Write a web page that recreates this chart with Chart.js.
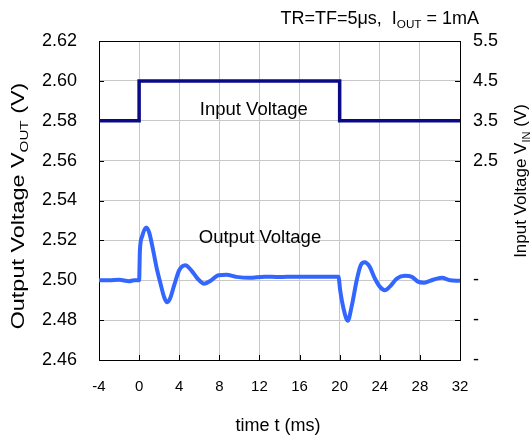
<!DOCTYPE html>
<html>
<head>
<meta charset="utf-8">
<script src="https://cdn.jsdelivr.net/npm/chart.js@4.4.0/dist/chart.umd.min.js"></script>
<style>
  html, body { margin: 0; padding: 0; background: #fff; }
  #wrap { width: 532px; height: 437px; }
</style>
</head>
<body>
<div id="wrap"><canvas id="stepChart" width="532" height="437"></canvas></div>
<script>
// time axis (ms)
const xTicks = [-4, 0, 4, 8, 12, 16, 20, 24, 28, 32];
// left axis, output voltage
const yTicks = [2.46, 2.48, 2.50, 2.52, 2.54, 2.56, 2.58, 2.60, 2.62];
// right axis, input voltage (only the top rows carry numbers in the original)
const y2Ticks = [-2.5, -1.5, -0.5, 0.5, 1.5, 2.5, 3.5, 4.5, 5.5];
const y2Labels = ['-', '-', '-', '', '', '2.5', '3.5', '4.5', '5.5'];

// input step
const inTime = [-4, 0, 0, 20, 20, 32];
const inVolt = [3.5, 3.5, 4.5, 4.5, 3.5, 3.5];

// output response
const outTime = [-4, -3, -2, -1, -0.5, 0, 0.08, 0.3, 0.7, 1.0, 1.4, 1.8, 2.1, 2.5, 2.8, 3.1, 3.5, 4.0, 4.6,
  5.2, 5.8, 6.5, 7.2, 7.9, 8.7, 9.7, 11, 12.5, 14, 15.5, 17, 18.5, 19.88, 20.05, 20.4, 20.8, 21.2, 21.7,
  22.1, 22.5, 23.0, 23.5, 24.0, 24.5, 25.0, 25.7, 26.5, 27.2, 27.8, 28.4, 29.0, 29.7, 30.2, 31.0, 32];
const outVolt = [2.5000, 2.5000, 2.5002, 2.4995, 2.5000, 2.5000, 2.5150, 2.5220, 2.5265, 2.5240, 2.5150,
  2.5050, 2.4990, 2.4915, 2.4890, 2.4910, 2.4975, 2.5050, 2.5075, 2.5050, 2.5010, 2.4983, 2.5000, 2.5025,
  2.5027, 2.5017, 2.5012, 2.5018, 2.5016, 2.5018, 2.5017, 2.5017, 2.5017, 2.4950, 2.4855, 2.4797, 2.4870,
  2.5000, 2.5075, 2.5090, 2.5067, 2.5010, 2.4968, 2.4950, 2.4968, 2.5008, 2.5022, 2.5017, 2.4993, 2.4988,
  2.4997, 2.5008, 2.5012, 2.5000, 2.4997];

const FONT = '"Liberation Sans", Arial, sans-serif';
Chart.defaults.font.family = FONT;
Chart.defaults.color = '#000';

// text with subscripts, parts = [[text, isSub], ...]
function richText(ctx, parts, x, y, size, align) {
  let w = 0;
  parts.forEach(p => {
    ctx.font = (p[1] ? size * 0.65 : size) + 'px ' + FONT;
    w += ctx.measureText(p[0]).width;
  });
  let cx = align === 'right' ? x - w : align === 'center' ? x - w / 2 : x;
  ctx.textAlign = 'left';
  ctx.textBaseline = 'alphabetic';
  parts.forEach(p => {
    ctx.font = (p[1] ? size * 0.65 : size) + 'px ' + FONT;
    ctx.fillText(p[0], cx, p[1] ? y + size * 0.22 : y);
    cx += ctx.measureText(p[0]).width;
  });
}

const decor = {
  id: 'decor',
  beforeDatasetsDraw(chart) {
    const { ctx, chartArea: a, scales } = chart;
    ctx.save();
    ctx.strokeStyle = '#000';
    ctx.lineWidth = 1;
    ctx.strokeRect(a.left + 0.5, a.top + 0.5, a.right - a.left, a.bottom - a.top);
    ctx.beginPath();
    yTicks.forEach(v => {
      const py = Math.round(scales.y.getPixelForValue(v)) + 0.5;
      ctx.moveTo(a.left, py); ctx.lineTo(a.left + 5, py);
      ctx.moveTo(a.right - 5, py); ctx.lineTo(a.right, py);
    });
    xTicks.forEach(v => {
      const px = Math.round(scales.x.getPixelForValue(v)) + 0.5;
      ctx.moveTo(px, a.bottom); ctx.lineTo(px, a.bottom - 5);
    });
    ctx.stroke();
    ctx.restore();
  },
  afterDraw(chart) {
    const { ctx, scales } = chart;
    ctx.save();
    ctx.fillStyle = '#000';
    // header
    richText(ctx, [['TR=TF=5\u03bcs,  I', false], ['OUT', true], [' = 1mA', false]], 479, 24, 18, 'right');
    // curve labels
    richText(ctx, [['Input Voltage', false]], scales.x.getPixelForValue(6.05), scales.y.getPixelForValue(2.583), 18.5, 'left');
    richText(ctx, [['Output Voltage', false]], scales.x.getPixelForValue(5.95), scales.y.getPixelForValue(2.5187), 18.5, 'left');
    // x title
    richText(ctx, [['time t (ms)', false]], 278, 431, 18, 'center');
    // left title
    ctx.save();
    ctx.translate(24, 206);
    ctx.rotate(-Math.PI / 2);
    ctx.scale(1.3, 1);
    richText(ctx, [['Output Voltage V', false], ['OUT', true], [' (V)', false]], 0, 0, 18, 'center');
    ctx.restore();
    // right title
    ctx.save();
    ctx.translate(526, 181);
    ctx.rotate(-Math.PI / 2);
    richText(ctx, [['Input Voltage V', false], ['IN', true], [' (V)', false]], 0, 0, 17, 'center');
    ctx.restore();
    ctx.restore();
  }
};

new Chart(document.getElementById('stepChart'), {
  type: 'scatter',
  data: {
    datasets: [{
      label: 'Input Voltage',
      data: inTime.map((t, i) => ({ x: t, y: inVolt[i] })),
      yAxisID: 'y2',
      showLine: true,
      borderColor: '#0a0a86',
      borderWidth: 3.5,
      pointRadius: 0,
      tension: 0
    }, {
      label: 'Output Voltage',
      data: outTime.map((t, i) => ({ x: t, y: outVolt[i] })),
      yAxisID: 'y',
      showLine: true,
      borderColor: '#3366ff',
      borderWidth: 4,
      pointRadius: 0,
      cubicInterpolationMode: 'monotone'
    }]
  },
  options: {
    responsive: false,
    animation: false,
    layout: { padding: { top: 41, left: 0, right: 0, bottom: 0 } },
    plugins: { legend: { display: false }, tooltip: { enabled: false } },
    scales: {
      x: {
        type: 'linear',
        min: -4, max: 32,
        afterBuildTicks: s => { s.ticks = xTicks.map(v => ({ value: v })); },
        afterFit: s => { s.height = 77; },
        ticks: { font: { size: 15 }, padding: 18, maxRotation: 0 },
        grid: { color: '#c8c8c8', drawTicks: false },
        border: { display: false }
      },
      y: {
        position: 'left',
        min: 2.46, max: 2.62,
        afterBuildTicks: s => { s.ticks = yTicks.map(v => ({ value: v })); },
        afterFit: s => { s.width = 99; },
        ticks: { font: { size: 18 }, padding: 22, callback: v => v.toFixed(2) },
        grid: { color: '#c8c8c8', drawTicks: false },
        border: { display: false }
      },
      y2: {
        position: 'right',
        min: -2.5, max: 5.5,
        afterBuildTicks: s => { s.ticks = y2Ticks.map(v => ({ value: v })); },
        afterFit: s => { s.width = 72; },
        ticks: { font: { size: 18 }, padding: 13, callback: (v, i) => y2Labels[i] },
        grid: { display: false, drawTicks: false },
        border: { display: false }
      }
    }
  },
  plugins: [decor]
});
</script>
</body>
</html>
